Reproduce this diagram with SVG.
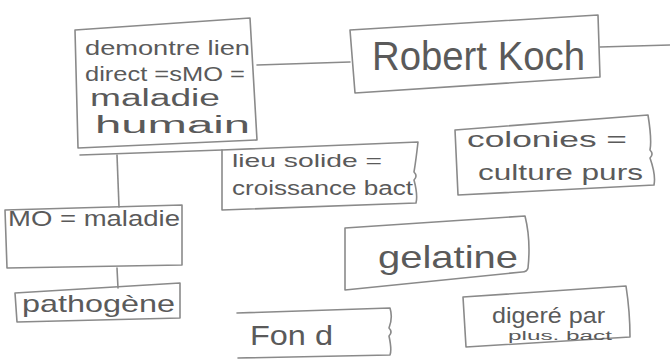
<svg xmlns="http://www.w3.org/2000/svg" width="670" height="360" viewBox="0 0 670 360">
<style>
.box{fill:none;stroke:#8a8a8a;stroke-width:1.6;stroke-linejoin:round;stroke-linecap:round}
.con{fill:none;stroke:#8a8a8a;stroke-width:1.6;stroke-linecap:round}
text{font-family:"Liberation Sans","DejaVu Sans",sans-serif;fill:#5a5a5a;font-weight:normal}
</style>
<rect width="670" height="360" fill="#ffffff"/>
<g id="connectors">
<path class="con" d="M257,65 L350,62"/>
<path class="con" d="M600,47 L670,45"/>
<path class="con" d="M80,155 L222,150"/>
<path class="con" d="M117,155 L119,207"/>
<path class="con" d="M117,268 L118,288"/>
</g>
<g id="n-demontre">
<path class="box" d="M75,30 L250,18 L257,140 L78,148 Z"/>
<text x="85" y="55" font-size="21" textLength="165" lengthAdjust="spacingAndGlyphs">demontre lien</text>
<text x="85" y="81" font-size="21" textLength="160" lengthAdjust="spacingAndGlyphs">direct =sMO =</text>
<text x="90" y="106" font-size="23" textLength="130" lengthAdjust="spacingAndGlyphs">maladie</text>
<text x="95" y="133" font-size="23" textLength="155" lengthAdjust="spacingAndGlyphs">humain</text>
</g>
<g id="n-koch">
<path class="box" d="M350,30 L598,15 L600,77 L355,93 Z"/>
<text x="372" y="70" font-size="40" textLength="213" lengthAdjust="spacingAndGlyphs">Robert Koch</text>
</g>
<g id="n-lieu">
<path class="box" d="M222,150 L418,142 Q416,160 414,172 Q418,176 414,180 Q418,195 416,203 L222,210 Z"/>
<text x="232" y="167" font-size="19" textLength="150" lengthAdjust="spacingAndGlyphs">lieu solide =</text>
<text x="232" y="195" font-size="20" textLength="181" lengthAdjust="spacingAndGlyphs">croissance bact</text>
</g>
<g id="n-colonies">
<path class="box" d="M455,130 L648,115 Q652,140 650,150 Q654,154 650,158 Q656,175 654,185 L458,195 Z"/>
<text x="467" y="147" font-size="22" textLength="160" lengthAdjust="spacingAndGlyphs">colonies =</text>
<text x="478" y="180" font-size="22" textLength="165" lengthAdjust="spacingAndGlyphs">culture purs</text>
</g>
<g id="n-mo">
<path class="box" d="M5,210 L182,205 L182,265 L7,268 Z"/>
<text x="8" y="226" font-size="22" textLength="172" lengthAdjust="spacingAndGlyphs">MO = maladie</text>
</g>
<g id="n-pathogene">
<path class="box" d="M15,293 L180,283 L180,318 L17,322 Z"/>
<text x="22" y="312" font-size="24" textLength="153" lengthAdjust="spacingAndGlyphs">pathogène</text>
</g>
<g id="n-gelatine">
<path class="box" d="M345,228 L525,216 Q531,240 528,268 Q527,272 522,272 L345,290 Z"/>
<text x="378" y="268" font-size="32" textLength="140" lengthAdjust="spacingAndGlyphs">gelatine</text>
</g>
<g id="n-fond">
<path class="box" d="M237,313 L390,308 Q393,318 389,328 Q393,332 389,336 Q392,350 390,355 L238,358"/>
<text x="250" y="345" font-size="28" textLength="83" lengthAdjust="spacingAndGlyphs">Fon d</text>
</g>
<g id="n-digere">
<path class="box" d="M463,297 L626,286 Q630,312 630,337 L466,347 Z"/>
<text x="492" y="323" font-size="22" textLength="113" lengthAdjust="spacingAndGlyphs">digeré par</text>
<text x="508" y="340" font-size="12" textLength="104" lengthAdjust="spacingAndGlyphs">plus. bact</text>
</g>
</svg>
